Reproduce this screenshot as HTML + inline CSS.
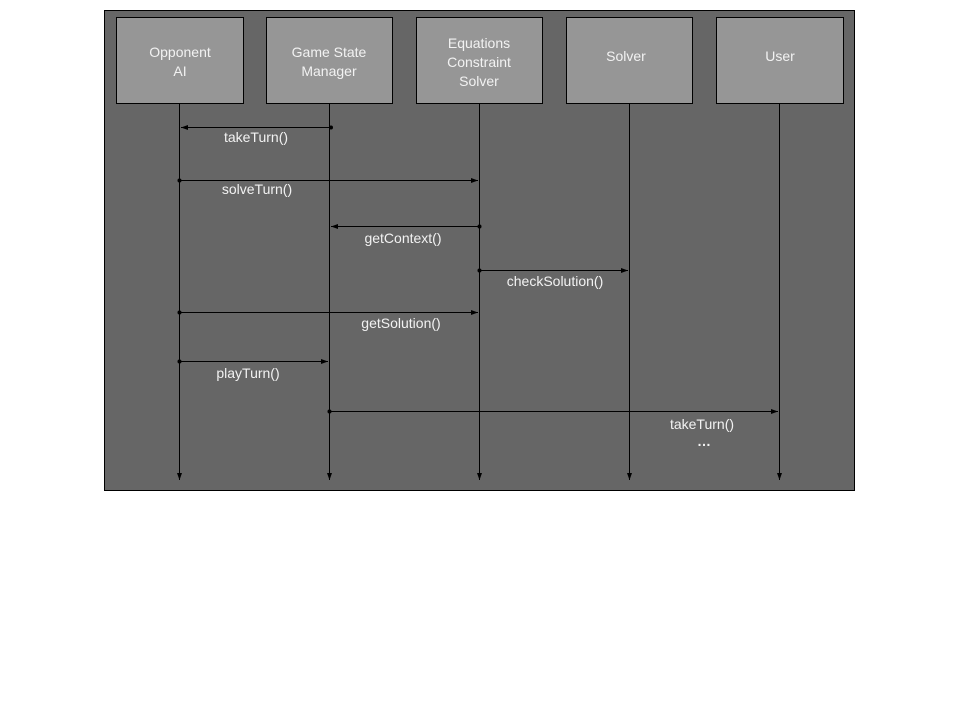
<!DOCTYPE html>
<html><head><style>body{margin:0;background:#fff}svg{display:block}</style></head><body>
<svg width="960" height="720" xmlns="http://www.w3.org/2000/svg" font-family="Liberation Sans, sans-serif" font-size="14" fill="#fff">
<defs>
<marker id="a" markerWidth="8" markerHeight="6" refX="7" refY="3" orient="auto" markerUnits="userSpaceOnUse"><path d="M0,0.5 L7,3 L0,5.5z" fill="#000"/></marker>
</defs>
<rect x="104.5" y="10.5" width="750" height="480" fill="#666" stroke="#000"/>
<g fill="#969696" stroke="#000">
<rect x="116.5" y="17.5" width="127" height="86"/>
<rect x="266.5" y="17.5" width="126" height="86"/>
<rect x="416.5" y="17.5" width="126" height="86"/>
<rect x="566.5" y="17.5" width="126" height="86"/>
<rect x="716.5" y="17.5" width="127" height="86"/>
</g>
<g text-anchor="middle" fill="#f2f2f2">
<text x="180" y="57">Opponent</text><text x="180" y="76">AI</text>
<text x="329" y="57">Game State</text><text x="329" y="76">Manager</text>
<text x="479" y="48">Equations</text><text x="479" y="67">Constraint</text><text x="479" y="86">Solver</text>
<text x="626" y="61">Solver</text>
<text x="780" y="61">User</text>
</g>
<g stroke="#000" stroke-width="1">
<line x1="179.5" y1="103" x2="179.5" y2="480" marker-end="url(#a)"/>
<line x1="329.5" y1="103" x2="329.5" y2="480" marker-end="url(#a)"/>
<line x1="479.5" y1="103" x2="479.5" y2="480" marker-end="url(#a)"/>
<line x1="629.5" y1="103" x2="629.5" y2="480" marker-end="url(#a)"/>
<line x1="779.5" y1="103" x2="779.5" y2="480" marker-end="url(#a)"/>
<line x1="331" y1="127.5" x2="181" y2="127.5" marker-end="url(#a)"/>
<line x1="179" y1="180.5" x2="478" y2="180.5" marker-end="url(#a)"/>
<line x1="479" y1="226.5" x2="331" y2="226.5" marker-end="url(#a)"/>
<line x1="479" y1="270.5" x2="628" y2="270.5" marker-end="url(#a)"/>
<line x1="179" y1="312.5" x2="478" y2="312.5" marker-end="url(#a)"/>
<line x1="179" y1="361.5" x2="328" y2="361.5" marker-end="url(#a)"/>
<line x1="329" y1="411.5" x2="778" y2="411.5" marker-end="url(#a)"/>
</g>
<g fill="#000">
<circle cx="331" cy="127.5" r="2"/><circle cx="179.5" cy="180.5" r="2"/><circle cx="479.5" cy="226.5" r="2"/>
<circle cx="479.5" cy="270.5" r="2"/><circle cx="179.5" cy="312.5" r="2"/><circle cx="179.5" cy="361.5" r="2"/><circle cx="329.5" cy="411.5" r="2"/>
</g>
<g text-anchor="middle" fill="#f2f2f2">
<text x="256" y="142">takeTurn()</text>
<text x="257" y="194">solveTurn()</text>
<text x="403" y="243">getContext()</text>
<text x="555" y="286">checkSolution()</text>
<text x="401" y="328">getSolution()</text>
<text x="248" y="378">playTurn()</text>
<text x="702" y="429">takeTurn()</text>
<text x="704" y="446" font-weight="bold">…</text>
</g>
</svg>
</body></html>
